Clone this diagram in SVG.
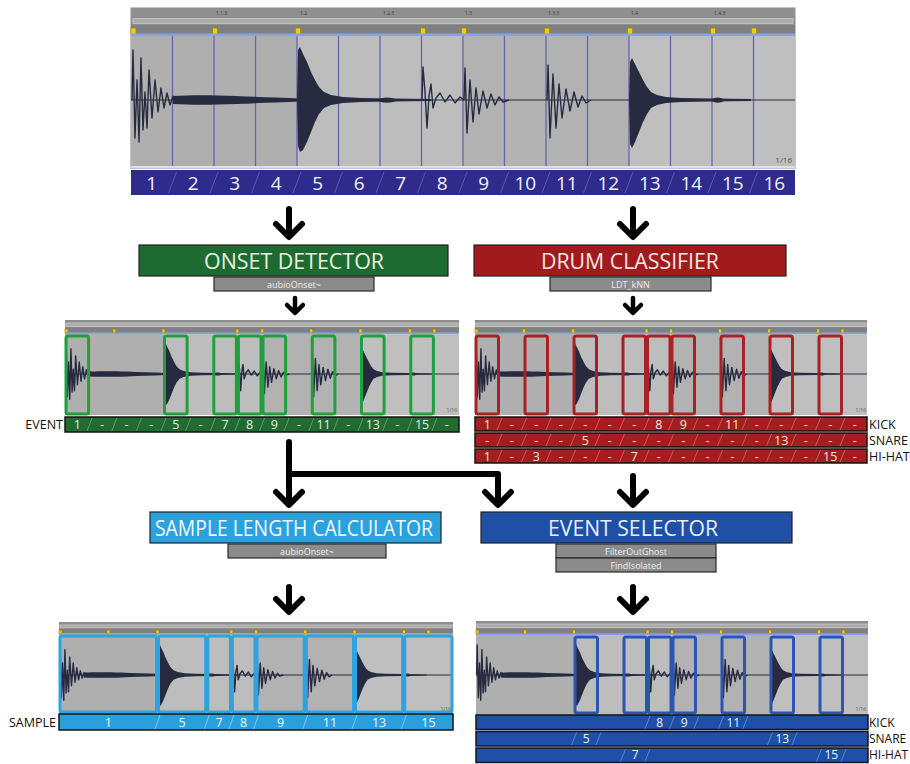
<svg xmlns="http://www.w3.org/2000/svg" xmlns:xlink="http://www.w3.org/1999/xlink" width="910" height="764" viewBox="0 0 910 764">
<style>
text{font-family:"Open Sans","Liberation Sans",sans-serif}
.n19{font-size:19px;fill:#f2f2fa;text-anchor:middle}
.n12{font-size:12.5px;text-anchor:middle}
.ttl{font-size:22px;text-anchor:middle}
.sub{font-size:9px;fill:#ededed;text-anchor:middle}
.lbl{font-size:12.5px;fill:#111}
.tick{font-size:5px;fill:#3a3a3a}
.frac{font-size:6px;fill:#555;text-anchor:end}
.wl{fill:none;stroke:#262b40;stroke-width:1.4;stroke-linejoin:round;vector-effect:non-scaling-stroke}
.wc{fill:none;stroke:#262b40;stroke-width:1;vector-effect:non-scaling-stroke}
.wf{fill:#262b40}
.hd{fill:#8f8f8f}
.sb{fill:#ababab;stroke:#cfcfcf;stroke-width:.7}
.ms{fill:#808080}
.bl{fill:#86a3e6}
.mk{fill:#f2cc00;stroke:#9a7a00;stroke-width:.6}
.b1{fill:#afafaf}.b2{fill:#bdbdbd}.b3{fill:#b2b2b2}.b4{fill:#bfbfbf}
.ov{fill:none;stroke-width:3}
.sl{fill:none;stroke-width:1}
.bar{stroke:#141414;stroke-width:1.5}
.node{stroke:#222;stroke-width:1.2}
.grey{fill:#8b8b8b;stroke:#2a2a2a;stroke-width:1.2}
.ar{fill:none;stroke:#000;stroke-width:6;stroke-linecap:round;stroke-linejoin:round}
.ars{fill:none;stroke:#000;stroke-width:4.5;stroke-linecap:round;stroke-linejoin:round}
</style>
<defs>
<g id="wave">
<path class="wc" d="M0,0 H664"/>
<path class="wl" d="M1,0 L2,-50 L4,38 L6,-20 L8,42 L10,-42 L12,30 L14,-8 L16,28 L18,-30 L21,18 L24,-20 L27,12 L30,-12 L33,8 L36,-7 L39,5 L42,-4 L45,3"/>
<path class="wf" d="M42,-4 C60,-5 80,-5 105,-4 C125,-3 145,-2.5 170,-1.5 L205,-0.6 L205,0.6 L170,1.5 C145,2.5 125,3 105,4 C80,5 60,5 42,4 Z"/>
<path class="wf" d="M166,0 L167,-50 L169,-53 L172,-46 L176,-38 L180,-28 L184,-20 L188,-13 L193,-8 L200,-5 L212,-3 L230,-2 L260,-1.5 L300,-1 L300,1 L260,1.5 L230,2 L212,3 L200,5 L193,8 L188,14 L184,22 L180,32 L176,42 L172,50 L169,52 L167,46 Z"/>
<path class="wf" d="M246,0 C250,-3.5 262,-3.5 266,0 C262,3.5 250,3.5 246,0 Z"/>
<path class="wl" d="M291,0 L292,-33 L294,-8 L296,28 L298,-4 L300,-16 L302,8 L305,-2 L309,-7 L314,2 L319,-5 L324,3 L329,-3 L333,0"/>
<path class="wl" d="M333,0 L334,-32 L336,33 L339,-20 L342,22 L345,-12 L348,14 L352,-9 L356,8 L360,-6 L364,5 L368,-3 L372,2 L378,0"/>
<path class="wl" d="M416,0 L417,-35 L419,38 L422,-26 L425,28 L428,-16 L431,18 L435,-11 L439,11 L443,-8 L447,7 L451,-4 L455,3 L460,0"/>
<path class="wf" d="M498,0 L499,-38 L501,-42 L504,-36 L508,-28 L512,-20 L516,-13 L520,-8 L526,-5 L535,-3 L550,-2 L580,-1.5 L620,-1 L620,1 L580,1.5 L550,2 L535,3 L526,5 L520,8 L516,14 L512,22 L508,32 L504,42 L501,48 L499,44 Z"/>
<path class="wf" d="M580,0 C583,-3.5 590,-3.5 594,0 C590,3.5 583,3.5 580,0 Z"/>
</g>
</defs>
<rect width="910" height="764" fill="#fff"/>

<g id="input-clip">
<rect x="131" y="8" width="664" height="160" fill="#b5b5b5" stroke="#8a8a8a"/>
<rect class="hd" x="131" y="8" width="664" height="26"/>
<text class="tick" x="216" y="15">1.1.3</text><text class="tick" x="300" y="15">1.2</text><text class="tick" x="383" y="15">1.2.3</text><text class="tick" x="465" y="15">1.3</text><text class="tick" x="548" y="15">1.3.3</text><text class="tick" x="631" y="15">1.4</text><text class="tick" x="714" y="15">1.4.3</text>
<rect class="sb" x="133" y="18.5" width="660" height="5"/>
<rect class="ms" x="131" y="25" width="664" height="9"/>
<g class="mk"><rect x="131" y="28" width="5" height="7" rx="1"/><rect x="212.5" y="28" width="5" height="7" rx="1"/><rect x="295.5" y="28" width="5" height="7" rx="1"/><rect x="420.5" y="28" width="5" height="7" rx="1"/><rect x="461.5" y="28" width="5" height="7" rx="1"/><rect x="544.5" y="28" width="5" height="7" rx="1"/><rect x="627.5" y="28" width="5" height="7" rx="1"/><rect x="710.5" y="28" width="5" height="7" rx="1"/><rect x="751.5" y="28" width="5" height="7" rx="1"/></g>
<rect class="bl" x="131" y="33.5" width="664" height="2.5"/>
<rect class="b1" x="131" y="36" width="166" height="131"/><rect class="b2" x="297" y="36" width="166" height="131"/><rect class="b3" x="463" y="36" width="166" height="131"/><rect class="b4" x="629" y="36" width="166" height="131"/>
<path d="M172.5,36V167M214,36V167M255.5,36V167M297,36V167M338.5,36V167M380,36V167M421.5,36V167M463,36V167M504.5,36V167M546,36V167M587.5,36V167M629,36V167M670.5,36V167M712,36V167M753.5,36V167" stroke="#6765ad" stroke-width="1.3"/>
<rect x="131" y="166" width="664" height="2" fill="#dcdcf2"/>
<use href="#wave" transform="translate(131,100)"/>
<text class="frac" x="792" y="163" style="font-size:8px">1/16</text>
</g>

<g id="step-grid">
<rect x="131" y="170" width="664" height="25" fill="#2e2b8c"/>
<path class="sl" stroke="#5a58a8" d="M168.5,193L176.5,172M210,193L218,172M251.5,193L259.5,172M293,193L301,172M334.5,193L342.5,172M376,193L384,172M417.5,193L425.5,172M459,193L467,172M500.5,193L508.5,172M542,193L550,172M583.5,193L591.5,172M625,193L633,172M666.5,193L674.5,172M708,193L716,172M749.5,193L757.5,172"/>
<g class="n19"><text x="151.75" y="190">1</text><text x="193.25" y="190">2</text><text x="234.75" y="190">3</text><text x="276.25" y="190">4</text><text x="317.75" y="190">5</text><text x="359.25" y="190">6</text><text x="400.75" y="190">7</text><text x="442.25" y="190">8</text><text x="483.75" y="190">9</text><text x="525.25" y="190">10</text><text x="566.75" y="190">11</text><text x="608.25" y="190">12</text><text x="649.75" y="190">13</text><text x="691.25" y="190">14</text><text x="732.75" y="190">15</text><text x="774.25" y="190">16</text></g>
</g>

<g id="onset-detector">
<rect class="node" x="139" y="245" width="309" height="31" fill="#1e6b31"/>
<text class="ttl" x="294" y="269" fill="#e9f1e4" textLength="180" lengthAdjust="spacingAndGlyphs">ONSET DETECTOR</text>
<rect class="grey" x="214" y="277" width="160" height="14"/>
<text class="sub" x="294" y="287.5">aubioOnset~</text>
</g>

<g id="drum-classifier">
<rect class="node" x="474" y="245" width="312" height="31" fill="#a11b1d"/>
<text class="ttl" x="630" y="269" fill="#f3e6e6" textLength="178" lengthAdjust="spacingAndGlyphs">DRUM CLASSIFIER</text>
<rect class="grey" x="550" y="277" width="161" height="14"/>
<text class="sub" x="630.5" y="287.5">LDT_kNN</text>
</g>

<g id="onset-events">
<rect x="65" y="320" width="394" height="95" fill="#b5b5b5"/>
<rect class="hd" x="65" y="320" width="394" height="13"/>
<rect class="sb" x="66" y="323" width="392" height="3.5"/>
<rect class="ms" x="65" y="327.5" width="394" height="5"/>
<g class="mk"><rect x="65" y="329" width="3" height="4"/><rect x="112.8" y="329" width="3" height="4"/><rect x="162" y="329" width="3" height="4"/><rect x="235.9" y="329" width="3" height="4"/><rect x="260.5" y="329" width="3" height="4"/><rect x="309.8" y="329" width="3" height="4"/><rect x="359" y="329" width="3" height="4"/><rect x="408.3" y="329" width="3" height="4"/><rect x="432.9" y="329" width="3" height="4"/></g>
<rect class="bl" x="65" y="332.5" width="394" height="1.5"/>
<rect class="b1" x="65" y="334" width="98.5" height="81"/><rect class="b2" x="163.5" y="334" width="98.5" height="81"/><rect class="b3" x="262" y="334" width="98.5" height="81"/><rect class="b4" x="360.5" y="334" width="98.5" height="81"/>
<use href="#wave" transform="translate(65,374) scale(0.5934,0.6)"/>
<text class="frac" x="457" y="412" style="font-size:5px">1/16</text>
<g class="ov" stroke="#1fa03c"><rect x="66" y="336" width="22.6" height="78" rx="2"/><rect x="164.5" y="336" width="22.6" height="78" rx="2"/><rect x="213.8" y="336" width="22.6" height="78" rx="2"/><rect x="238.4" y="336" width="22.6" height="78" rx="2"/><rect x="263" y="336" width="22.6" height="78" rx="2"/><rect x="312.3" y="336" width="22.6" height="78" rx="2"/><rect x="361.5" y="336" width="22.6" height="78" rx="2"/><rect x="410.8" y="336" width="22.6" height="78" rx="2"/></g>
<rect class="bar" x="65" y="417" width="394" height="15" fill="#1f6b30"/>
<path class="sl" stroke="#5f9a6a" d="M87.1,431L92.1,418M111.8,431L116.8,418M136.4,431L141.4,418M161,431L166,418M185.6,431L190.6,418M210.3,431L215.3,418M234.9,431L239.9,418M259.5,431L264.5,418M284.1,431L289.1,418M308.8,431L313.8,418M333.4,431L338.4,418M358,431L363,418M382.6,431L387.6,418M407.3,431L412.3,418M431.9,431L436.9,418"/>
<g class="n12" fill="#e6efe0"><text x="77.3" y="429">1</text><text x="101.9" y="429">-</text><text x="126.6" y="429">-</text><text x="151.2" y="429">-</text><text x="175.8" y="429">5</text><text x="200.4" y="429">-</text><text x="225.1" y="429">7</text><text x="249.7" y="429">8</text><text x="274.3" y="429">9</text><text x="299" y="429">-</text><text x="323.6" y="429">11</text><text x="348.2" y="429">-</text><text x="372.8" y="429">13</text><text x="397.4" y="429">-</text><text x="422.1" y="429">15</text><text x="446.7" y="429">-</text></g>
<text class="lbl" x="63" y="429" text-anchor="end">EVENT</text>
</g>

<g id="classified-events">
<rect x="475" y="320" width="392" height="95" fill="#b5b5b5"/>
<rect class="hd" x="475" y="320" width="392" height="13"/>
<rect class="sb" x="476" y="323" width="390" height="3.5"/>
<rect class="ms" x="475" y="327.5" width="392" height="5"/>
<g class="mk"><rect x="475" y="329" width="3" height="4"/><rect x="522.5" y="329" width="3" height="4"/><rect x="571.5" y="329" width="3" height="4"/><rect x="645" y="329" width="3" height="4"/><rect x="669.5" y="329" width="3" height="4"/><rect x="718.5" y="329" width="3" height="4"/><rect x="767.5" y="329" width="3" height="4"/><rect x="816.5" y="329" width="3" height="4"/><rect x="841" y="329" width="3" height="4"/></g>
<rect class="bl" x="475" y="332.5" width="392" height="1.5"/>
<rect class="b1" x="475" y="334" width="98" height="81"/><rect class="b2" x="573" y="334" width="98" height="81"/><rect class="b3" x="671" y="334" width="98" height="81"/><rect class="b4" x="769" y="334" width="98" height="81"/>
<use href="#wave" transform="translate(475,374) scale(0.5904,0.6)"/>
<text class="frac" x="866" y="412" style="font-size:5px">1/16</text>
<g class="ov" stroke="#a82224" stroke-width="2.5"><rect x="476" y="336" width="22.5" height="78" rx="2"/><rect x="525" y="336" width="22.5" height="78" rx="2"/><rect x="574" y="336" width="22.5" height="78" rx="2"/><rect x="623" y="336" width="22.5" height="78" rx="2"/><rect x="647.5" y="336" width="22.5" height="78" rx="2"/><rect x="672" y="336" width="22.5" height="78" rx="2"/><rect x="721" y="336" width="22.5" height="78" rx="2"/><rect x="770" y="336" width="22.5" height="78" rx="2"/><rect x="819" y="336" width="22.5" height="78" rx="2"/></g>
<rect class="bar" x="475" y="417" width="392" height="14" fill="#a51d1e"/>
<rect class="bar" x="475" y="433" width="392" height="14" fill="#a51d1e"/>
<rect class="bar" x="475" y="449" width="392" height="14" fill="#a51d1e"/>
<path class="sl" stroke="#cc5a56" d="M497,430L502,418M521.5,430L526.5,418M546,430L551,418M570.5,430L575.5,418M595,430L600,418M619.5,430L624.5,418M644,430L649,418M668.5,430L673.5,418M693,430L698,418M717.5,430L722.5,418M742,430L747,418M766.5,430L771.5,418M791,430L796,418M815.5,430L820.5,418M840,430L845,418
M497,446L502,434M521.5,446L526.5,434M546,446L551,434M570.5,446L575.5,434M595,446L600,434M619.5,446L624.5,434M644,446L649,434M668.5,446L673.5,434M693,446L698,434M717.5,446L722.5,434M742,446L747,434M766.5,446L771.5,434M791,446L796,434M815.5,446L820.5,434M840,446L845,434
M497,462L502,450M521.5,462L526.5,450M546,462L551,450M570.5,462L575.5,450M595,462L600,450M619.5,462L624.5,450M644,462L649,450M668.5,462L673.5,450M693,462L698,450M717.5,462L722.5,450M742,462L747,450M766.5,462L771.5,450M791,462L796,450M815.5,462L820.5,450M840,462L845,450"/>
<g class="n12" fill="#f4e6df">
<text x="487.25" y="428.5">1</text><text x="511.75" y="428.5">-</text><text x="536.25" y="428.5">-</text><text x="560.75" y="428.5">-</text><text x="585.25" y="428.5">-</text><text x="609.75" y="428.5">-</text><text x="634.25" y="428.5">-</text><text x="658.75" y="428.5">8</text><text x="683.25" y="428.5">9</text><text x="707.75" y="428.5">-</text><text x="732.25" y="428.5">11</text><text x="756.75" y="428.5">-</text><text x="781.25" y="428.5">-</text><text x="805.75" y="428.5">-</text><text x="830.25" y="428.5">-</text><text x="854.75" y="428.5">-</text>
<text x="487.25" y="444.5">-</text><text x="511.75" y="444.5">-</text><text x="536.25" y="444.5">-</text><text x="560.75" y="444.5">-</text><text x="585.25" y="444.5">5</text><text x="609.75" y="444.5">-</text><text x="634.25" y="444.5">-</text><text x="658.75" y="444.5">-</text><text x="683.25" y="444.5">-</text><text x="707.75" y="444.5">-</text><text x="732.25" y="444.5">-</text><text x="756.75" y="444.5">-</text><text x="781.25" y="444.5">13</text><text x="805.75" y="444.5">-</text><text x="830.25" y="444.5">-</text><text x="854.75" y="444.5">-</text>
<text x="487.25" y="460.5">1</text><text x="511.75" y="460.5">-</text><text x="536.25" y="460.5">3</text><text x="560.75" y="460.5">-</text><text x="585.25" y="460.5">-</text><text x="609.75" y="460.5">-</text><text x="634.25" y="460.5">7</text><text x="658.75" y="460.5">-</text><text x="683.25" y="460.5">-</text><text x="707.75" y="460.5">-</text><text x="732.25" y="460.5">-</text><text x="756.75" y="460.5">-</text><text x="781.25" y="460.5">-</text><text x="805.75" y="460.5">-</text><text x="830.25" y="460.5">15</text><text x="854.75" y="460.5">-</text>
</g>
<text class="lbl" x="869" y="428.5">KICK</text><text class="lbl" x="869" y="444.5">SNARE</text><text class="lbl" x="869" y="460.5">HI-HAT</text>
</g>

<g id="sample-length-calculator">
<rect class="node" x="150" y="512" width="291" height="31" fill="#2ba2dd"/>
<text class="ttl" x="294" y="536" fill="#f2f9ff" textLength="278" lengthAdjust="spacingAndGlyphs">SAMPLE LENGTH CALCULATOR</text>
<rect class="grey" x="228" y="544" width="158" height="14"/>
<text class="sub" x="307" y="554.5">aubioOnset~</text>
</g>

<g id="event-selector">
<rect class="node" x="481" y="512" width="311" height="31" fill="#1f50a6"/>
<text class="ttl" x="633" y="536" fill="#e8eef8" textLength="170" lengthAdjust="spacingAndGlyphs">EVENT SELECTOR</text>
<rect class="grey" x="556" y="544" width="160" height="14"/>
<text class="sub" x="636" y="554.5">FilterOutGhost</text>
<rect class="grey" x="556" y="558" width="160" height="14"/>
<text class="sub" x="636" y="568.5">FindIsolated</text>
</g>

<g id="sample-slices">
<rect x="59" y="622" width="394" height="92" fill="#b5b5b5"/>
<rect class="hd" x="59" y="622" width="394" height="12"/>
<rect class="sb" x="60" y="625" width="392" height="3"/>
<rect class="ms" x="59" y="628.5" width="394" height="4.5"/>
<g class="mk"><rect x="59" y="630" width="3" height="4"/><rect x="106.8" y="630" width="3" height="4"/><rect x="156" y="630" width="3" height="4"/><rect x="229.9" y="630" width="3" height="4"/><rect x="254.5" y="630" width="3" height="4"/><rect x="303.8" y="630" width="3" height="4"/><rect x="353" y="630" width="3" height="4"/><rect x="402.3" y="630" width="3" height="4"/><rect x="426.9" y="630" width="3" height="4"/></g>
<rect class="bl" x="59" y="633" width="394" height="1.5"/>
<rect class="b1" x="59" y="634.5" width="98.5" height="79.5"/><rect class="b2" x="157.5" y="634.5" width="98.5" height="79.5"/><rect class="b3" x="256" y="634.5" width="98.5" height="79.5"/><rect class="b4" x="354.5" y="634.5" width="98.5" height="79.5"/>
<use href="#wave" transform="translate(59,675) scale(0.5934,0.6)"/>
<text class="frac" x="451" y="711" style="font-size:5px">1/16</text>
<g class="ov" stroke="#2fa3df"><rect x="60" y="636" width="96.5" height="76" rx="2"/><rect x="158.5" y="636" width="47.2" height="76" rx="2"/><rect x="207.8" y="636" width="22.6" height="76" rx="2"/><rect x="232.4" y="636" width="22.6" height="76" rx="2"/><rect x="257" y="636" width="47.2" height="76" rx="2"/><rect x="306.3" y="636" width="47.2" height="76" rx="2"/><rect x="355.5" y="636" width="47.2" height="76" rx="2"/><rect x="404.8" y="636" width="47.2" height="76" rx="2"/></g>
<rect class="bar" x="59" y="714" width="394" height="16" fill="#2a9fdb"/>
<path class="sl" stroke="#7cc6ee" d="M155,729L160,715M204.3,729L209.3,715M228.9,729L233.9,715M253.5,729L258.5,715M302.8,729L307.8,715M352,729L357,715M401.3,729L406.3,715"/>
<g class="n12" fill="#f0f8ff"><text x="108.3" y="727">1</text><text x="182.1" y="727">5</text><text x="219.1" y="727">7</text><text x="243.7" y="727">8</text><text x="280.6" y="727">9</text><text x="329.9" y="727">11</text><text x="379.1" y="727">13</text><text x="428.4" y="727">15</text></g>
<text class="lbl" x="56" y="727" text-anchor="end">SAMPLE</text>
</g>

<g id="selected-events">
<rect x="476" y="621" width="392" height="94" fill="#b5b5b5"/>
<rect class="hd" x="476" y="621" width="392" height="13"/>
<rect class="sb" x="477" y="624" width="390" height="3.5"/>
<rect class="ms" x="476" y="628.5" width="392" height="5"/>
<g class="mk"><rect x="476" y="630" width="3" height="4"/><rect x="523.5" y="630" width="3" height="4"/><rect x="572.5" y="630" width="3" height="4"/><rect x="646" y="630" width="3" height="4"/><rect x="670.5" y="630" width="3" height="4"/><rect x="719.5" y="630" width="3" height="4"/><rect x="768.5" y="630" width="3" height="4"/><rect x="817.5" y="630" width="3" height="4"/><rect x="842" y="630" width="3" height="4"/></g>
<rect class="bl" x="476" y="633.5" width="392" height="1.5"/>
<rect class="b1" x="476" y="635" width="98" height="79"/><rect class="b2" x="574" y="635" width="98" height="79"/><rect class="b3" x="672" y="635" width="98" height="79"/><rect class="b4" x="770" y="635" width="98" height="79"/>
<use href="#wave" transform="translate(476,675) scale(0.5904,0.6)"/>
<text class="frac" x="866" y="711" style="font-size:5px">1/16</text>
<g class="ov" stroke="#2a55b0" stroke-width="3.5"><rect x="575" y="637" width="22.5" height="76" rx="2"/><rect x="624" y="637" width="22.5" height="76" rx="2"/><rect x="648.5" y="637" width="22.5" height="76" rx="2"/><rect x="673" y="637" width="22.5" height="76" rx="2"/><rect x="722" y="637" width="22.5" height="76" rx="2"/><rect x="771" y="637" width="22.5" height="76" rx="2"/><rect x="820" y="637" width="22.5" height="76" rx="2"/></g>
<rect class="bar" x="476" y="715" width="392" height="14.5" fill="#1f50a8"/>
<rect class="bar" x="476" y="731.5" width="392" height="14.5" fill="#1f50a8"/>
<rect class="bar" x="476" y="748" width="392" height="14.5" fill="#1f50a8"/>
<path class="sl" stroke="#5c82cc" d="M645,728.5L650,716M669.5,728.5L674.5,716M694,728.5L699,716M718.5,728.5L723.5,716M743,728.5L748,716M571.5,745L576.5,732.5M596,745L601,732.5M767.5,745L772.5,732.5M792,745L797,732.5M620.5,761.5L625.5,749M645,761.5L650,749M816.5,761.5L821.5,749M841,761.5L846,749"/>
<g class="n12" fill="#eef2fa" style="font-size:12px"><text x="659.75" y="726.5">8</text><text x="684.25" y="726.5">9</text><text x="733.25" y="726.5">11</text><text x="586.25" y="743">5</text><text x="782.25" y="743">13</text><text x="635.25" y="759">7</text><text x="831.25" y="759">15</text></g>
<g class="lbl" style="font-size:12px"><text x="869" y="726.5">KICK</text><text x="869" y="743">SNARE</text><text x="869" y="759">HI-HAT</text></g>
</g>

<g id="connectors">
<path class="ar" d="M289,209V234M276,224L289,237L302,224"/>
<path class="ar" d="M633,209V234M620,224L633,237L646,224"/>
<path class="ars" d="M295,298V312M287,305L295,313L303,305"/>
<path class="ars" d="M633,298V312M625,305L633,313L641,305"/>
<path class="ar" d="M289,442V502M276,492L289,505L302,492"/>
<path class="ar" d="M289,474H498V502M485,492L498,505L511,492"/>
<path class="ar" d="M633,476V502M620,492L633,505L646,492"/>
<path class="ar" d="M289,587V609M276,599L289,612L302,599"/>
<path class="ar" d="M633,587V609M620,599L633,612L646,599"/>
</g>
</svg>
